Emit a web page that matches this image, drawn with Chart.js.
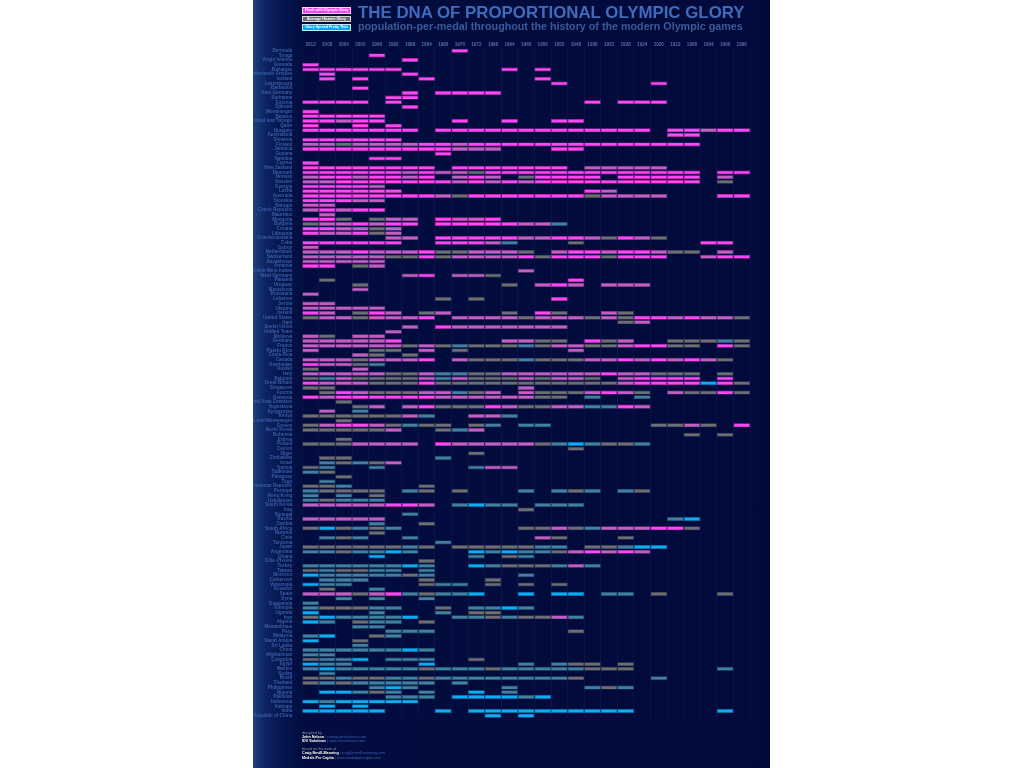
<!DOCTYPE html>
<html>
<head>
<meta charset="utf-8">
<title>The DNA of Proportional Olympic Glory</title>
<script src="https://cdn.jsdelivr.net/npm/chart.js@4"></script>
<style>
  html, body { margin: 0; padding: 0; background: #fff; }
  #poster {
    position: absolute; left: 253px; top: 0; width: 517px; height: 768px; overflow: hidden;
    background: linear-gradient(to right, #1c417e 0px, #0c2462 12px, #05164f 28px, #020c3e 52px, #010a3a 100%);
    font-family: "Liberation Sans", Arial, sans-serif;
  }
  #chart { position: absolute; left: 0; top: 0; }
  .title { position: absolute; left: 105px; top: 5px; font-size: 16px; line-height: 1; font-weight: bold; color: #3e6bbb; white-space: nowrap; }
  .subtitle { position: absolute; left: 105px; top: 21px; font-size: 10px; line-height: 1; font-weight: bold; color: #3a5a9a; white-space: nowrap; }
  .key { position: absolute; left: 49px; width: 49px; height: 6.6px; box-sizing: border-box; border: 0.6px solid rgba(255,255,255,0.75);
         font-size: 3.6px; line-height: 5.6px; font-weight: bold; color: #fff; text-align: center; white-space: nowrap; }
  .footer { position: absolute; left: 49px; top: 731px; font-size: 3.7px; line-height: 4.1px; color: #8a90b0; white-space: nowrap; }
  .footer b { color: #fff; }
  .footer span { color: #3d62b4; }
</style>
</head>
<body>
<div id="poster">
  <canvas id="chart" width="517" height="768"></canvas>
  <div class="title" id="title">THE DNA OF PROPORTIONAL OLYMPIC GLORY</div>
  <div class="subtitle" id="subtitle">population-per-medal throughout the history of the modern Olympic games</div>
  <div class="key" id="key1" style="top:7.4px;background:#f146ee;"></div>
  <div class="key" id="key2" style="top:15.8px;background:#6c6c70;"></div>
  <div class="key" id="key3" style="top:24.2px;background:#05a6ef;"></div>
  <div class="footer">
    designed by<br>
    <b>John Nelson</b> <span>| coding.idvsolutions.com</span><br>
    <b>IDV Solutions</b> <span>| www.idvsolutions.com</span><br>
    <br>
    based on the work of<br>
    <b>Craig Nevill-Manning</b> <span>| craig@nevill-manning.com</span><br>
    <b>Medals Per Capita</b> <span>| www.medalspercapita.com</span>
  </div>
</div>
<script>
// Olympic games, newest first
const years = ["2012", "2008", "2004", "2000", "1996", "1992", "1988", "1984", "1980", "1976",
  "1972", "1968", "1964", "1960", "1956", "1952", "1948", "1936", "1932", "1928",
  "1924", "1920", "1912", "1908", "1904", "1900", "1896"];

const legendLabels = ["Flush with Olympic Glory", "Average Historic Glory", "Glory Spread Pretty Thin"];

const countries = [
  "Bermuda", "Tonga", "Virgin Islands", "Grenada", "Bahamas", "Netherlands Antilles", "Iceland",
  "Luxembourg", "Barbados", "East Germany", "Suriname", "Estonia", "Djibouti", "Montenegro",
  "Belarus", "Trinidad and Tobago", "Qatar", "Hungary", "Australasia", "Slovenia", "Finland",
  "Jamaica", "Guyana", "Namibia", "Cyprus", "New Zealand", "Denmark", "Norway",
  "Sweden", "Georgia", "Latvia", "Australia", "Slovakia", "Bahrain", "Czech Republic",
  "Mauritius", "Mongolia", "Bulgaria", "Croatia", "Lithuania", "Czechoslovakia", "Cuba", "Gabon",
  "Netherlands", "Switzerland", "Kazakhstan", "Armenia", "British West Indies", "West Germany",
  "Panama", "Uruguay", "Macedonia", "Botswana", "Lebanon", "Serbia", "Ukraine", "Ireland",
  "United States", "Haiti", "Soviet Union", "Unified Team", "Moldova", "Germany", "France",
  "Puerto Rico", "Costa Rica", "Canada", "Azerbaijan", "Kuwait", "Italy", "Belgium",
  "Great Britain", "Singapore", "Austria", "Romania", "United Arab Emirates", "Yugoslavia",
  "Kyrgyzstan", "Kenya", "Serbia and Montenegro", "Greece", "North Korea", "Bohemia", "Eritrea", "Poland",
  "Ceylon", "Niger", "Zimbabwe", "Israel", "Tunisia", "Tajikistan", "Paraguay", "Togo",
  "Dominican Republic", "Portugal", "Hong Kong", "Uzbekistan", "South Korea", "Iraq", "Senegal",
  "Russia", "Zambia", "South Africa", "Burundi", "Chile", "Tanzania", "Japan", "Argentina",
  "Ghana", "Côte d'Ivoire", "Turkey", "Taiwan", "Morocco", "Cameroon",
  "Venezuela", "Ecuador", "Spain", "Syria", "Guatemala", "Ethiopia", "Uganda", "Iran",
  "Algeria", "Mozambique", "Peru", "Malaysia", "Saudi Arabia", "Sri Lanka",
  "China", "Afghanistan", "Colombia", "Egypt", "Mexico", "Sudan", "Brazil", "Thailand",
  "Philippines", "Nigeria", "Pakistan", "Indonesia", "Vietnam", "India", "Republic of China"
];

// glory level per games, same column order as years
// 1 flush (pink) .. 3 average (grey) .. 5 spread thin (blue), "." = no medal
const glory = [
  "..... ....1 ..... ..... ..... ..", "....1 ..... ..... ..... ..... ..", "..... .1... ..... ..... ..... ..",
  "1.... ..... ..... ..... ..... ..", "11111 1.... ..1.1 ..... ..... ..", ".1... .1... ..... ..... ..... ..",
  ".1.1. ..1.. ....1 ..... ..... ..", "..... ..... ..... 1.... .1... ..", "...1. ..... ..... ..... ..... ..",
  "..... .1.11 11... ..... ..... ..", "..... 11... ..... ..... ..... ..", "1111. 1.... ..... ..1.1 11... ..",
  "..... .1... ..... ..... ..... ..", "1.... ..... ..... ..... ..... ..",
  "11111 ..... ..... ..... ..... ..", "11211 ....1 ..1.. 11... ..... ..", "1..1. 1.... ..... ..... ..... ..",
  "11111 11.11 11111 11111 1.112 11", "..... ..... ..... ..... ..11. ..", "11111 1.... ..... ..... ..... ..",
  "22322 22112 11111 11111 1111. ..", "11111 11112 22... 11... ..... ..", "..... ...1. ..... ..... ..... ..",
  "....1 1.... ..... ..... ..... ..", "1.... ..... ..... ..... ..... ..", "11111 111.1 11111 1.222 22... ..",
  "11111 12122 31111 11111 1111. 11", "21121 121.2 12.31 111.1 1111. 2.",
  "22111 11112 12121 11111 1111. 3.", "11112 ..... ..... ..... ..... ..", "11111 1.... ..... ..12. ..... ..",
  "11111 11123 11111 11322 22... 11", "11122 ..... ..... ..... ..... ..", "22... ..... ..... ..... ..... ..",
  "21211 ..... ..... ..... ..... ..", ".2... ..... ..... ..... ..... ..", "113.3 22.12 21... ..... ..... ..",
  "32212 11.11 11122 4.... ..... ..", "11223 2.... ..... ..... ..... ..", "12213 2.... ..... ..... ..... ..",
  "..... 22.11 11122 11231 23... ..", "11111 1..11 124.. .3... ....1 1.", "2.... ..... ..... ..... ..... ..",
  "22212 22133 2223. 21121 1233. 2.", "22222 33132 22213 11131 11..2 11", "22222 ..... ..... ..... ..... ..",
  "11.32 ..... ..... ..... ..... ..", "..... ..... ...2. ..... ..... ..", "..... .21.2 23... ..... ..... ..",
  ".3... ..... ..... .1... ..... ..", "...3. ..... ..3.2 12.22 2.... ..", "...2. ..... ..... ..... ..... ..",
  "2.... ..... ..... ..... ..... ..", "..... ...3. 3.... 1.... ..... ..", "22... ..... ..... ..... ..... ..",
  "22222 ..... ..... ..... ..... ..", "12.31 2.32. ..3.1 3..23 ..... ..",
  "32232 221.2 22232 22323 11212 23", "..... ..... ..... ....3 2.... ..", "..... .2.12 22222 2.... ..... ..",
  "..... 2.... ..... ..... ..... ..", "23.22 ..... ..... ..... ..... ..", "22222 1.... ..223 3.132 ..333 43",
  "22222 23234 33343 22332 1133. 13", "2...3 3.2.3 ..... .2... ..... ..", "...23 .3... ..... ..... ..... ..",
  "22232 221.2 33343 33221 21212 3.", "12234 ..... ..... ..... ..... ..", "3..2. ..... ..... ..... ..... ..",
  "22222 33244 33222 22212 2333. 3.", "34233 33242 33323 223.2 1111. 1.",
  "12223 33133 33333 33332 11115 13", "33... ..... ...2. ..... ..... ..", ".3123 33224 32.23 33212 3.233 13",
  "12111 11122 22223 3.4.. 4.... ..", "..3.. ..... ..... ..... ..... ..", "...32 .2133 31233 22441 2.... ..",
  ".2.4. ..... ..... ..... ..... ..", "33333 324.. 224.. ..... ..... ..", "..3.. ..... ..... ..... ..... ..",
  "32112 3433. 34.44 ..... .3323 .1", "33333 2..34 2.... ..... ..... ..", "..... ..... ..... ..... ...3. 3.",
  "..3.. ..... ..... ..... ..... ..", "33322 22.12 22223 45433 4.... ..",
  "..... ..... ..... .3... ..... ..", "..... ..... 3.... ..... ..... ..", ".33.. ...4. ..... ..... ..... ..",
  ".4343 2.... ..... ..... ..... ..", "34..4 ..... 422.. ..... ..... ..", "43... ..... ..... ..... ..... ..",
  "..3.. ..... ..... ..... ..... ..", ".4... ..... ..... ..... ..... ..", "334.. ..3.. ..... ..... ..... ..",
  "43333 .43.3 ...4. 434.4 3.... ..", "4.4.3 ..... ..... ..... ..... ..", "43444 ..... ..... ..... ..... ..",
  "22222 112.4 544.4 44... ..... ..", "..... ..... ...3. ..... ..... ..", "..... .4... ..... ..... ..... ..",
  "22222 ..... ..... ..... ..45. ..", "....4 ..3.. ..... ..... ..... ..", "35343 4.... ...33 23422 2113. ..",
  "....3 ..... ..... ..... ..... ..", ".434. .4... ....2 3...3 ..... ..", "..... ...4. ..... ..... ..... ..",
  "33333 343.3 33334 4.334 55... ..", "44344 54... 54544 32121 2.... ..", "....5 ..... 4.34. ..... ..... ..",
  "..... ..3.. ..... ..... ..... ..", "44444 454.. 54333 424.. ..... ..", "34334 4.4.. ..... ..... ..... ..",
  "54444 434.. ...4. ..... ..... ..", ".444. ..3.. .3... ..... ..... ..",
  "544.. ..344 .3.3. 3.... ..... ..", ".3..4 ..... ..... ..... ..... ..", "22232 14344 5..5. 55.44 .3... 3.",
  "..4.4 ..4.. ..... ..... ..... ..", "4.... ..... ..... ..... ..... ..", "43334 4..3. 4454. ..... ..... ..",
  "5...4 ...4. 33... ..... ..... ..", "35444 45..4 43433 24... ..... ..", "54.34 4.3.. ..... ..... ..... ..",
  "...44 ..... ..... ..... ..... ..", "..... 444.. ..... .3... ..... ..", "45..3 4.... ..... ..... ..... ..",
  "5..3. ..... ..... ..... ..... ..", "...4. ..... ..... ..... ..... ..",
  "44444 454.. ..... ..... ..... ..", "44... ..... ..... ..... ..... ..", "3445. 444.. 3.... ..... ..... ..",
  "544.. ..5.. ...4. 433.3 ..... ..", "45444 44344 43444 44333 ..... 4.", ".4... ..... ..... ..... ..... ..",
  "33433 44344 44444 43... .4... ..", "34344 444.4 ..... ..... ..... ..", "....4 54... ..4.. ..434 ..... ..",
  ".5543 4.4.. 5.4.. ..... ..... ..", "..... 444.5 55545 ..... ..... ..", "54555 55... ..... ..... ..... ..",
  ".5.5. ..... ..... ..... ..... ..", "55555 ...5. 55555 55555 ..... 5.", "..... ..... .5.5. ..... ..... .."
];

const fills = { "1": "#ff47f2", "2": "#c35fc4", "3": "#6d6d76", "4": "#41809f", "5": "#0aaef2" };
const edges = { "1": "#b62aae", "2": "#86408a", "3": "#45454f", "4": "#2a5876", "5": "#0777ad" };

const rows = glory.map((s) => s.replace(/ /g, ""));

document.getElementById("key1").textContent = legendLabels[0];
document.getElementById("key2").textContent = legendLabels[1];
document.getElementById("key3").textContent = legendLabels[2];

function fitWidth(id, target) {
  const el = document.getElementById(id);
  const size = parseFloat(getComputedStyle(el).fontSize);
  el.style.fontSize = (size * target / el.getBoundingClientRect().width) + "px";
}
fitWidth("title", 387);
fitWidth("subtitle", 385);

const datasets = years.map((year, c) => ({
  label: year,
  data: rows.map((r) => (r[c] === "." ? null : [c, c + 1])),
  backgroundColor: rows.map((r) => fills[r[c]] || "transparent"),
  borderColor: rows.map((r) => edges[r[c]] || "transparent"),
  borderWidth: 0.7,
  borderSkipped: false,
  barPercentage: 0.86,
  categoryPercentage: 1,
  grouped: false,
}));

const ctx = document.getElementById("chart");

new Chart(ctx, {
  type: "bar",
  data: { labels: countries, datasets: datasets },
  options: {
    responsive: false,
    animation: false,
    indexAxis: "y",
    layout: { padding: { top: 40, right: 20, bottom: 50, left: 0 } },
    plugins: { legend: { display: false }, tooltip: { enabled: false } },
    scales: {
      x: {
        type: "linear",
        position: "top",
        min: 0,
        max: years.length,
        afterBuildTicks: (axis) => {
          axis.ticks = years.map((y, i) => ({ value: i + 0.5 }));
        },
        afterFit: (axis) => { axis.height = 8.4; },
        ticks: {
          callback: (value, index) => years[index],
          autoSkip: false,
          maxRotation: 0,
          padding: 1,
          color: "#5a6ca3",
          font: { family: "Liberation Sans", size: 4.6, weight: "bold" },
        },
        grid: { offset: true, color: "#07134c", lineWidth: 1, drawTicks: false },
        border: { display: false },
      },
      y: {
        type: "category",
        afterFit: (axis) => { axis.width = 49.3; },
        ticks: {
          autoSkip: false,
          padding: 2,
          color: "#3b5ea8",
          font: { family: "Liberation Sans", size: 4.6, weight: "bold" },
        },
        grid: { display: false },
        border: { display: false },
      },
    },
  },
});
</script>
</body>
</html>
